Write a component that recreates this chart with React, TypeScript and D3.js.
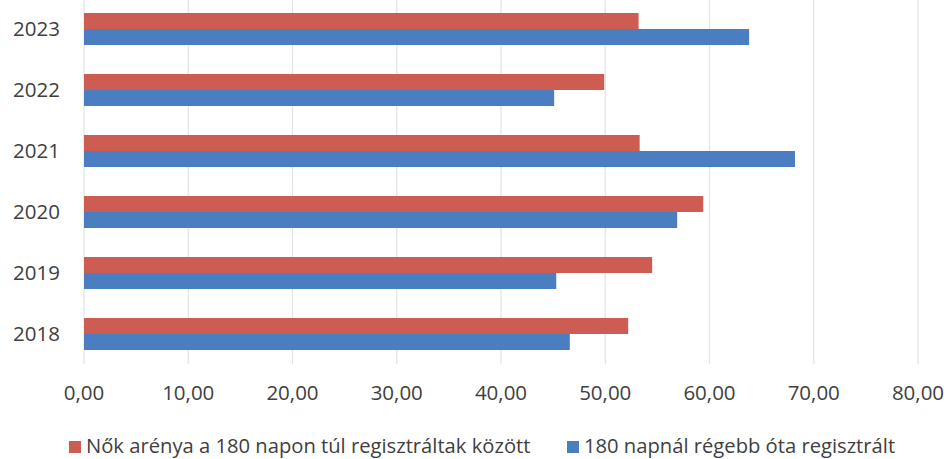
import * as d3 from "d3";
import { createRef, useEffect } from "react";

const years = ["2018", "2019", "2020", "2021", "2022", "2023"];
const womenShare = [52.2, 54.5, 59.4, 53.3, 49.9, 53.2];
const longTerm = [46.6, 45.3, 56.9, 68.2, 45.1, 63.8];
const xTicks = [0, 10, 20, 30, 40, 50, 60, 70, 80];
const seriesNames = [
  "Nők arénya a 180 napon túl regisztráltak között",
  "180 napnál régebb óta regisztrált",
];
const seriesColors = ["#cd5d53", "#4a7ec0"];

function BarChart() {
  function draw(container: HTMLElement) {
    const width = 949;
    const height = 459;
    const font = "'Open Sans', 'Liberation Sans', sans-serif";

    const svg = d3.create("svg")
      .attr("width", width)
      .attr("height", height)
      .style("display", "block")
      .style("font-family", font);

    svg.append("rect").attr("width", width).attr("height", height).attr("fill", "#fff");

    const x = d3.scaleLinear().domain([0, 80]).range([84, 918]);
    // 2023 at top
    const y = d3.scaleBand<string>()
      .domain([...years].reverse())
      .range([-1.5, 364.5])
      .paddingInner(0.475)
      .paddingOuter(0.2375);

    svg.append("g")
      .attr("stroke", "#e3e3e3")
      .attr("stroke-width", 1.2)
      .selectAll("line")
      .data(xTicks)
      .join("line")
      .attr("x1", d => x(d))
      .attr("x2", d => x(d))
      .attr("y1", 0)
      .attr("y2", 364);

    const inner = d3.scaleBand<number>().domain([0, 1]).range([0, y.bandwidth()]);
    const series = [womenShare, longTerm];

    series.forEach((values, si) => {
      svg.append("g")
        .attr("fill", seriesColors[si])
        .selectAll("rect")
        .data(values)
        .join("rect")
        .attr("x", x(0))
        .attr("y", (_, i) => (y(years[i]) ?? 0) + (inner(si) ?? 0))
        .attr("width", d => x(d) - x(0))
        .attr("height", inner.bandwidth());
    });

    svg.append("g")
      .selectAll("text")
      .data(years)
      .join("text")
      .attr("x", 60)
      .attr("y", d => (y(d) ?? 0) + y.bandwidth() / 2)
      .attr("dy", "0.35em")
      .attr("text-anchor", "end")
      .attr("font-size", 20.5)
      .attr("fill", "#404040")
      .text(d => d);

    svg.append("g")
      .selectAll("text")
      .data(xTicks)
      .join("text")
      .attr("x", d => x(d))
      .attr("y", 393)
      .attr("dy", "0.35em")
      .attr("text-anchor", "middle")
      .attr("font-size", 20.5)
      .attr("fill", "#404040")
      .text(d => d3.format(".2f")(d).replace(".", ","));

    const legendX = [69, 567];
    const legend = svg.append("g")
      .selectAll("g")
      .data(seriesNames)
      .join("g")
      .attr("transform", (_, i) => `translate(${legendX[i]},446)`);

    legend.append("rect")
      .attr("x", 0)
      .attr("y", -5)
      .attr("width", 12)
      .attr("height", 12)
      .attr("fill", (_, i) => seriesColors[i]);

    legend.append("text")
      .attr("x", 17)
      .attr("dy", "0.35em")
      .attr("font-size", 20.2)
      .attr("fill", "#404040")
      .text(d => d);

    container.append(svg.node()!);
  }

  const containerRef = createRef<HTMLDivElement>();

  useEffect(() => {
    if (containerRef.current) {
      containerRef.current.innerHTML = "";
      draw(containerRef.current);
    }
  }, [containerRef]);

  return <div ref={containerRef}></div>;
}

export default function App() {
  return (
    <div style={{ position: "fixed", left: 0, top: 0 }}>
      <BarChart />
    </div>
  );
}
